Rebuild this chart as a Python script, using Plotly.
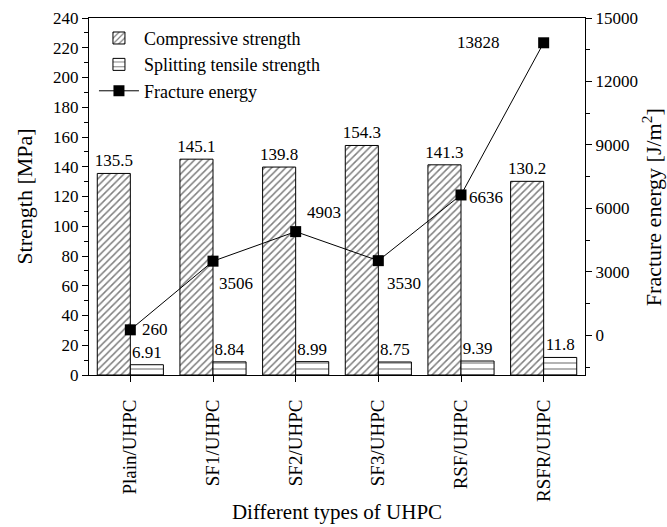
import plotly.graph_objects as go

categories = ["Plain/UHPC", "SF1/UHPC", "SF2/UHPC", "SF3/UHPC", "RSF/UHPC", "RSFR/UHPC"]
compressive = [135.5, 145.1, 139.8, 154.3, 141.3, 130.2]
splitting = [6.91, 8.84, 8.99, 8.75, 9.39, 11.8]
fracture = [260, 3506, 4903, 3530, 6636, 13828]
fracture_labels = ["260", "3506", "4903", "3530", "6636", "13828"]

FONT = "Liberation Serif, Times New Roman, serif"

fig = go.Figure()
fig.add_trace(go.Bar(
    x=categories, y=compressive, name="Compressive strength",
    marker=dict(color="white", line=dict(color="black", width=1),
                pattern=dict(shape="/", fgcolor="black", bgcolor="white", size=5, solidity=0.3)),
    text=[f"{v}" for v in compressive], textposition="outside", constraintext="none",
    textfont=dict(family=FONT, size=17, color="black"), cliponaxis=False,
))
fig.add_trace(go.Bar(
    x=categories, y=splitting, name="Splitting tensile strength",
    marker=dict(color="white", line=dict(color="black", width=1),
                pattern=dict(shape="-", fgcolor="black", bgcolor="white", size=6, solidity=0.2)),
    text=[f"{v}" for v in splitting], textposition="outside", constraintext="none",
    textfont=dict(family=FONT, size=17, color="black"), cliponaxis=False,
))
fig.add_trace(go.Scatter(
    x=categories, y=fracture, name="Fracture energy", yaxis="y2",
    mode="lines+markers", line=dict(color="black", width=1),
    marker=dict(symbol="square", size=11, color="black"), cliponaxis=False,
))

# fracture-energy value labels
offsets = [
    dict(xanchor="left", yanchor="middle", xshift=10, yshift=0),
    dict(xanchor="left", yanchor="middle", xshift=4, yshift=-22),
    dict(xanchor="left", yanchor="middle", xshift=9, yshift=19),
    dict(xanchor="left", yanchor="middle", xshift=7, yshift=-23),
    dict(xanchor="left", yanchor="middle", xshift=6, yshift=-3),
    dict(xanchor="right", yanchor="middle", xshift=-42, yshift=0),
]
for c, v, lab, o in zip(categories, fracture, fracture_labels, offsets):
    fig.add_annotation(x=c, y=v, xref="x", yref="y2", text=lab, showarrow=False,
                       font=dict(family=FONT, size=17, color="black"), **o)

# right axis title as a rotated annotation so it is not clipped
fig.add_annotation(x=1.135, y=0.47, xref="paper", yref="paper", textangle=-90,
                   text="Fracture energy [J/m<sup>2</sup>]", showarrow=False,
                   xanchor="center", yanchor="middle",
                   font=dict(family=FONT, size=22, color="black"))

axis_font = dict(family=FONT, size=17, color="black")
fig.update_layout(
    width=667, height=527,
    margin=dict(l=89, r=82, t=18, b=152, autoexpand=False),
    plot_bgcolor="white", paper_bgcolor="white",
    font=dict(family=FONT, size=17, color="black"),
    barmode="group", bargap=0.2, bargroupgap=0,
    showlegend=True,
    legend=dict(x=0.01, y=0.995, xanchor="left", yanchor="top",
                bgcolor="rgba(0,0,0,0)", font=dict(family=FONT, size=18),
                itemwidth=40, tracegroupgap=0),
    xaxis=dict(type="category", categoryorder="array", categoryarray=categories,
               range=[-0.5, 5.5], tickangle=-90, showline=True, linecolor="black", linewidth=1,
               ticks="outside", ticklen=6, tickcolor="black", showgrid=False,
               minor=dict(ticks="outside", ticklen=4, tickcolor="black"),
               ticklabelstandoff=10, automargin=False,
               title=dict(text="Different types of UHPC", font=dict(family=FONT, size=21), standoff=3),
               tickfont=dict(family=FONT, size=19, color="black"), mirror=True),
    xaxis2=dict(overlaying="x", side="top", anchor="y", range=[-0.5, 5.5],
                tickmode="array", tickvals=[i * 0.5 - 0.5 for i in range(13)],
                ticks="inside", ticklen=5, tickcolor="black", showticklabels=False,
                showgrid=False, showline=False, zeroline=False, automargin=False),
    yaxis=dict(range=[0, 240], dtick=20, showline=True, linecolor="black", linewidth=1,
               ticks="outside", ticklen=6, tickcolor="black", showgrid=False, zeroline=False,
               minor=dict(dtick=10, ticks="outside", ticklen=4, tickcolor="black"),
               automargin=False,
               title=dict(text="Strength [MPa]", font=dict(family=FONT, size=22), standoff=14),
               tickfont=axis_font),
    yaxis2=dict(range=[-1875, 15000], overlaying="y", side="right", anchor="x",
                tickmode="linear", tick0=0, dtick=3000, tickformat="d",
                showline=True, linecolor="black", linewidth=1,
                ticks="outside", ticklen=6, tickcolor="black", showgrid=False, zeroline=False,
                minor=dict(tick0=0, dtick=1500, ticks="outside", ticklen=4, tickcolor="black"),
                automargin=False,
                tickfont=axis_font),
)

fig.write_html("out.html")
